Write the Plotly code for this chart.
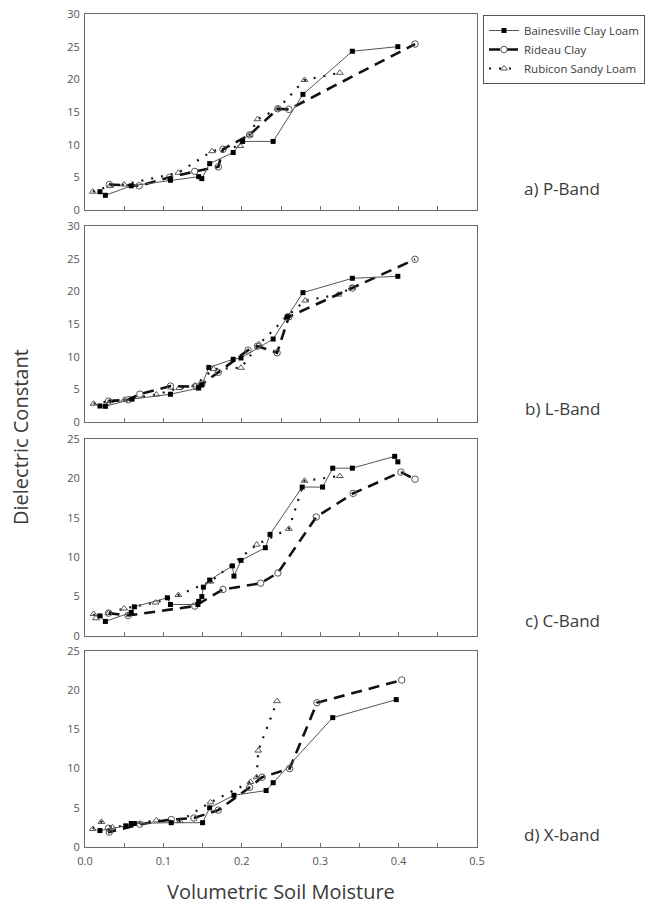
import plotly.graph_objects as go

# ---------------- data ----------------
series_names = ["Bainesville Clay Loam", "Rideau Clay", "Rubicon Sandy Loam"]
panel_labels = ["a) P-Band", "b) L-Band", "c) C-Band", "d) X-band"]
x_ticks = [0.0, 0.1, 0.2, 0.3, 0.4, 0.5]

# a) P-Band
bcl_a_x = [0.019, 0.026, 0.059, 0.109, 0.145, 0.149, 0.159, 0.189, 0.201, 0.240, 0.278, 0.341, 0.399]
bcl_a_y = [2.8, 2.25, 3.7, 4.55, 5.1, 4.8, 7.1, 8.8, 10.5, 10.5, 17.7, 24.3, 25.0]
rc_a_x = [0.031, 0.069, 0.108, 0.140, 0.170, 0.176, 0.210, 0.246, 0.260, 0.421]
rc_a_y = [3.9, 3.7, 5.0, 5.9, 6.6, 9.3, 11.5, 15.5, 15.4, 25.4]
rsl_a_x = [0.010, 0.032, 0.050, 0.119, 0.162, 0.198, 0.210, 0.220, 0.246, 0.280, 0.325]
rsl_a_y = [2.8, 3.7, 3.9, 5.7, 9.0, 9.8, 11.5, 13.9, 15.5, 19.9, 21.0]

# b) L-Band
bcl_b_x = [0.019, 0.026, 0.060, 0.109, 0.145, 0.149, 0.158, 0.189, 0.199, 0.240, 0.258, 0.278, 0.341, 0.399]
bcl_b_y = [2.45, 2.4, 3.5, 4.25, 5.2, 5.7, 8.35, 9.6, 9.8, 12.7, 16.1, 19.8, 22.0, 22.3]
rc_b_x = [0.030, 0.055, 0.070, 0.109, 0.142, 0.149, 0.170, 0.208, 0.220, 0.245, 0.260, 0.341, 0.421]
rc_b_y = [3.2, 3.4, 4.25, 5.5, 5.4, 5.8, 7.6, 11.0, 11.6, 10.6, 16.1, 20.5, 24.9]
rsl_b_x = [0.011, 0.032, 0.050, 0.091, 0.120, 0.140, 0.164, 0.199, 0.222, 0.258, 0.281, 0.323, 0.341]
rsl_b_y = [2.8, 3.2, 3.4, 4.2, 5.2, 5.6, 8.1, 8.3, 11.9, 16.2, 18.6, 19.5, 20.6]

# c) C-Band
bcl_c_x = [0.019, 0.026, 0.059, 0.063, 0.105, 0.109, 0.144, 0.145, 0.149, 0.151, 0.159, 0.188, 0.190,
           0.199, 0.230, 0.236, 0.277, 0.303, 0.316, 0.341, 0.395, 0.399]
bcl_c_y = [2.55, 1.85, 3.0, 3.7, 4.85, 4.0, 4.0, 4.4, 5.0, 6.2, 7.1, 8.9, 7.6,
           9.6, 11.2, 12.9, 18.9, 18.9, 21.3, 21.3, 22.8, 22.1]
rc_c_x = [0.030, 0.055, 0.140, 0.176, 0.224, 0.246, 0.295, 0.342, 0.403, 0.421]
rc_c_y = [2.9, 2.6, 3.8, 5.9, 6.7, 8.0, 15.1, 18.1, 20.8, 19.9]
rsl_c_x = [0.011, 0.014, 0.030, 0.050, 0.090, 0.119, 0.160, 0.219, 0.260, 0.280, 0.325]
rsl_c_y = [2.8, 2.25, 2.9, 3.5, 4.25, 5.2, 6.9, 11.6, 13.6, 19.7, 20.3]

# d) X-band
bcl_d_x = [0.019, 0.052, 0.059, 0.063, 0.110, 0.150, 0.159, 0.190, 0.231, 0.240, 0.316, 0.397]
bcl_d_y = [2.1, 2.7, 3.0, 3.0, 3.1, 3.1, 5.0, 6.6, 7.2, 8.2, 16.5, 18.8]
rc_d_x = [0.030, 0.031, 0.070, 0.110, 0.139, 0.170, 0.210, 0.226, 0.261, 0.296, 0.404]
rc_d_y = [2.4, 1.9, 2.9, 3.5, 3.7, 4.7, 7.6, 8.9, 10.0, 18.4, 21.3]
rsl_d_x = [0.010, 0.021, 0.035, 0.091, 0.121, 0.160, 0.211, 0.219, 0.221, 0.245]
rsl_d_y = [2.3, 3.2, 2.5, 3.4, 3.3, 5.7, 8.3, 8.9, 12.3, 18.6]

panels = [
    (bcl_a_x, bcl_a_y, rc_a_x, rc_a_y, rsl_a_x, rsl_a_y, 30),
    (bcl_b_x, bcl_b_y, rc_b_x, rc_b_y, rsl_b_x, rsl_b_y, 30),
    (bcl_c_x, bcl_c_y, rc_c_x, rc_c_y, rsl_c_x, rsl_c_y, 25),
    (bcl_d_x, bcl_d_y, rc_d_x, rc_d_y, rsl_d_x, rsl_d_y, 25),
]

# ---------------- layout geometry ----------------
W, H = 647, 905
ML, MR, MT, MB = 85, 170, 14, 58
PH = H - MT - MB
PW = W - ML - MR
top_px = [14, 226, 439, 651]
bot_px = [210, 422, 636, 847]
domains = [[(H - MB - b) / PH, (H - MB - t) / PH] for t, b in zip(top_px, bot_px)]

FONT = "Open Sans"
TXT = "#3a3a3a"
AX = "#6a6a6a"

fig = go.Figure()
for i, (bx, by, cx, cy, sx, sy, ymax) in enumerate(panels):
    n = "" if i == 0 else str(i + 1)
    xa, ya = "x" + n, "y" + n
    first = i == 0
    fig.add_trace(go.Scatter(
        x=sx, y=sy, xaxis=xa, yaxis=ya, mode="lines+markers", name=series_names[2],
        line=dict(color="#111111", width=2.2, dash="2px,8px"),
        marker=dict(symbol="triangle-up-open", size=6, color="#555555", line=dict(width=1)),
        showlegend=first, legendrank=3))
    fig.add_trace(go.Scatter(
        x=cx, y=cy, xaxis=xa, yaxis=ya, mode="lines+markers", name=series_names[1],
        line=dict(color="#111111", width=2.6, dash="11px,7px"),
        marker=dict(symbol="circle-open", size=6.5, color="#555555", line=dict(width=1)),
        showlegend=first, legendrank=2))
    fig.add_trace(go.Scatter(
        x=bx, y=by, xaxis=xa, yaxis=ya, mode="lines+markers", name=series_names[0],
        line=dict(color="#555555", width=1),
        marker=dict(symbol="square", size=5, color="#000000"),
        showlegend=first, legendrank=1))

    last = i == 3
    fig.update_layout(**{
        "xaxis" + n: dict(
            domain=[0, 1], anchor=ya, range=[0, 0.5], tickvals=x_ticks,
            tickformat=".1f", showticklabels=last, ticks="inside", ticklen=4,
            tickcolor=AX, showline=True, linecolor=AX, linewidth=1, mirror=True,
            showgrid=False, zeroline=False, ticklabelstandoff=4, automargin=False,
            minor=dict(dtick=0.05, tick0=0, ticks="inside", ticklen=4, tickcolor=AX, showgrid=False),
            tickfont=dict(family=FONT, size=11, color="#555555")),
        "yaxis" + n: dict(
            domain=domains[i], anchor=xa, range=[0, ymax], dtick=5,
            showline=True, linecolor=AX, linewidth=1, mirror=True, automargin=False,
            showgrid=False, zeroline=False, ticks="", ticklabelstandoff=2,
            tickfont=dict(family=FONT, size=11, color="#555555")),
    })

annotations = []
label_y_px = [188, 408, 620, 834]
for lab, ypx in zip(panel_labels, label_y_px):
    annotations.append(dict(
        text=lab, xref="paper", yref="paper",
        x=(562 - ML) / PW, y=(H - MB - ypx) / PH,
        showarrow=False, xanchor="center", yanchor="middle",
        font=dict(family=FONT, size=17, color=TXT)))
annotations.append(dict(
    text="Dielectric Constant", xref="paper", yref="paper",
    x=(20 - ML) / PW, y=(H - MB - 437) / PH, textangle=-90,
    showarrow=False, xanchor="center", yanchor="middle",
    font=dict(family=FONT, size=20, color=TXT)))
annotations.append(dict(
    text="Volumetric Soil Moisture", xref="paper", yref="paper",
    x=0.5, y=(H - MB - 891) / PH,
    showarrow=False, xanchor="center", yanchor="middle",
    font=dict(family=FONT, size=20, color=TXT)))

fig.update_layout(
    width=W, height=H, autosize=False,
    margin=dict(l=ML, r=MR, t=MT, b=MB, autoexpand=False),
    paper_bgcolor="white", plot_bgcolor="white",
    annotations=annotations,
    legend=dict(
        x=(645 - ML) / PW, y=(H - MB - 15) / PH, xanchor="right", yanchor="top",
        bordercolor="#555555", borderwidth=1, bgcolor="white",
        font=dict(family=FONT, size=11.5, color=TXT), tracegroupgap=3,
        itemwidth=30),
)

fig.write_html("out.html")
